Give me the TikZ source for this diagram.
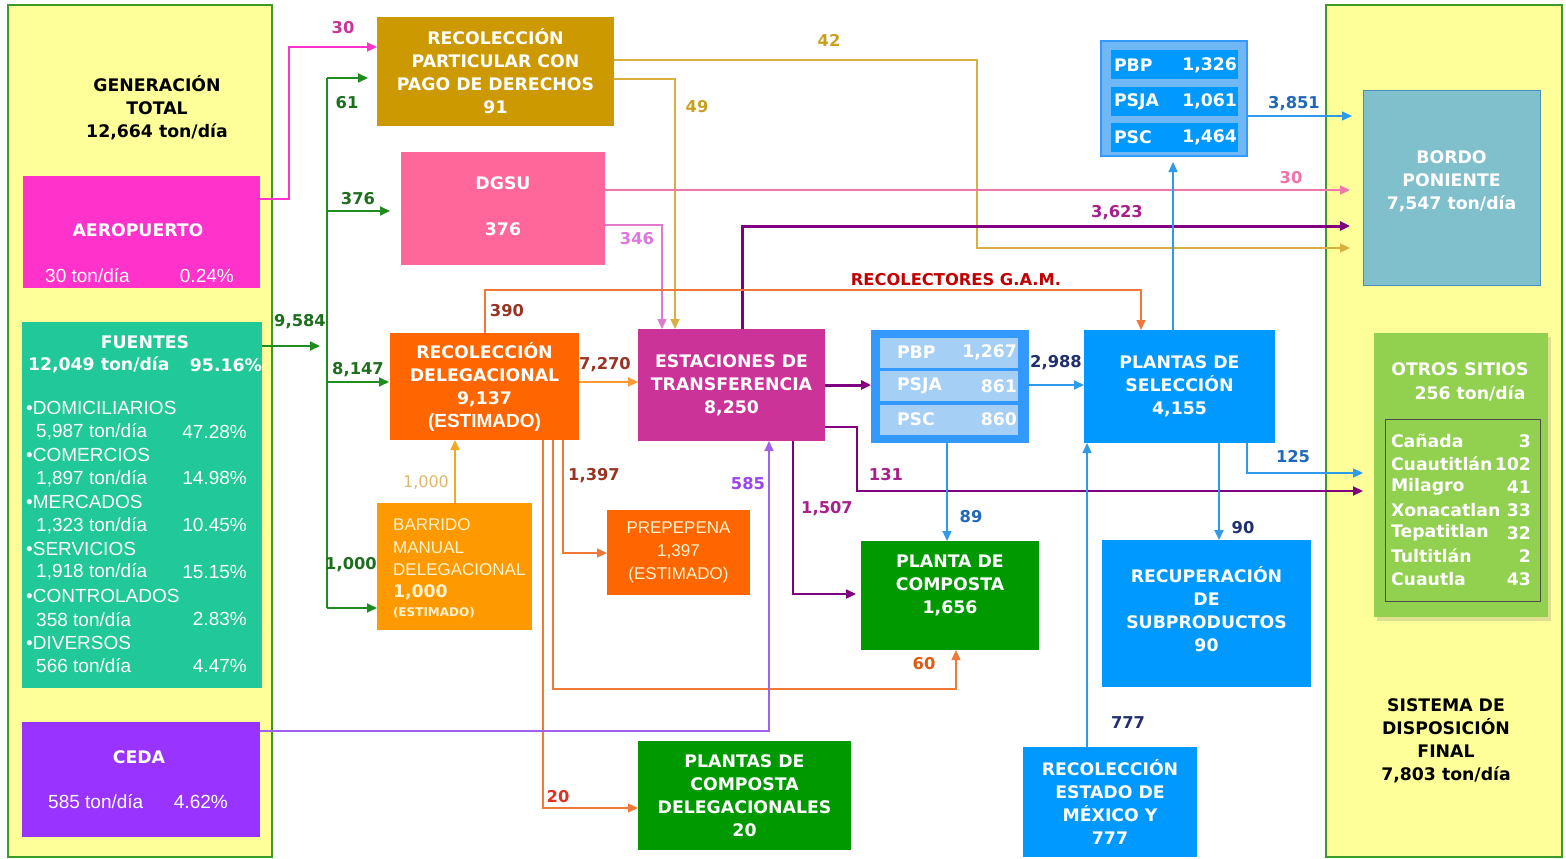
\documentclass[tikz,border=0pt]{standalone}
\usepackage{fontspec}
\setmainfont{DejaVu Sans}
\newfontfamily\arialf{Liberation Sans}
\usetikzlibrary{arrows.meta,shadows}
\definecolor{ylw}{HTML}{FFFF99}
\definecolor{grnb}{HTML}{3A9A2A}
\definecolor{aeroc}{HTML}{FF33CC}
\definecolor{fuentc}{HTML}{20C997}
\definecolor{cedac}{HTML}{9933FF}
\definecolor{goldc}{HTML}{CC9900}
\definecolor{dgsuc}{HTML}{FF6699}
\definecolor{orgc}{HTML}{FF6600}
\definecolor{estc}{HTML}{CC3399}
\definecolor{barc}{HTML}{FF9900}
\definecolor{grc}{HTML}{009900}
\definecolor{bluc}{HTML}{0099FF}
\definecolor{blu2}{HTML}{3399FF}
\definecolor{ltblu}{HTML}{A6CFF5}
\definecolor{ltb1}{HTML}{70B8F5}
\definecolor{bordc}{HTML}{80C0CC}
\definecolor{bordb}{HTML}{4A90B8}
\definecolor{otrc}{HTML}{92D050}
\definecolor{lgreen}{HTML}{1E8C1E}
\definecolor{lgold}{HTML}{D9B040}
\definecolor{lpink}{HTML}{F077AA}
\definecolor{lorch}{HTML}{E07ACC}
\definecolor{lpurp}{HTML}{800080}
\definecolor{lorg}{HTML}{F07838}
\definecolor{lorg2}{HTML}{FF9933}
\definecolor{lbar}{HTML}{F5A623}
\definecolor{lceda}{HTML}{A060F0}
\definecolor{lblue}{HTML}{2E9BEA}
\definecolor{tgreen}{HTML}{1E6E1E}
\definecolor{tmag}{HTML}{CC3399}
\definecolor{tgold}{HTML}{C8A020}
\definecolor{tpink}{HTML}{F070A8}
\definecolor{torch}{HTML}{DD77DD}
\definecolor{tplum}{HTML}{A8208A}
\definecolor{tbrown}{HTML}{993322}
\definecolor{tred}{HTML}{C00000}
\definecolor{tred2}{HTML}{DD3322}
\definecolor{torg}{HTML}{E05A10}
\definecolor{ttan}{HTML}{E0B868}
\definecolor{tviol}{HTML}{9944EE}
\definecolor{tnavy}{HTML}{1F2F6F}
\definecolor{tblue}{HTML}{2068B8}
\definecolor{pale}{HTML}{FFF3D0}
\newcommand\bxf{\fontsize{17.3}{23}\selectfont\bfseries}
\newcommand\lbf{\fontsize{16.3}{19}\selectfont\bfseries}
\newcommand\nrf{\arialf\fontsize{19}{23}\selectfont}
\newcommand\nrs{\arialf\fontsize{17}{23}\selectfont}
\begin{document}
\begin{tikzpicture}[x=1pt,y=-1pt,
  box/.style={inner sep=0pt,outer sep=0pt,align=center,text=white,font=\bxf},
  txt/.style={inner sep=0pt,outer sep=0pt,align=center,font=\bxf},
  lab/.style={inner sep=0pt,font=\lbf},
  ntxt/.style={inner sep=0pt,font=\nrf},
  tip/.style={-{Triangle[length=10pt,width=9pt]}},
  ln/.style={line width=1.3pt}]
\useasboundingbox (0,0) rectangle (1566,859);
% background panels
\node[box,fill=ylw,draw=grnb,line width=1.6pt,minimum width=264,minimum height=852] (gen) at (140,431) {};
\node[box,fill=ylw,draw=grnb,line width=1.6pt,minimum width=236,minimum height=852] (sdf) at (1444,431) {};
\node[txt] (genT) at (157,108) {GENERACIÓN\\TOTAL\\12,664 ton/día};
\node[txt] (sdfT) at (1446,741) {SISTEMA DE\\DISPOSICIÓN\\FINAL\\7,803 ton/día};
% aeropuerto
\node[box,fill=aeroc,minimum width=237,minimum height=112] (aero) at (141.5,232) {};
\node[box] (aeroT) at (138,230) {AEROPUERTO};
\node[ntxt,text=white,anchor=west] (aeroA) at (45,276) {30 ton/día};
\node[ntxt,text=white,anchor=east] (aeroB) at (234,276) {0.24\%};
% fuentes
\node[box,fill=fuentc,minimum width=240,minimum height=366] (fue) at (142,505) {};
\node[box] (fueT) at (145,342) {FUENTES};
\node[box,anchor=west] (fueA) at (28,365) {12,049 ton/día};
\node[box,anchor=east] (fueB) at (262,365) {95.16\%};
\foreach \fa/\fb/\fc [count=\i from 0] in {DOMICILIARIOS/{5,987 ton/día}/47.28, COMERCIOS/{1,897 ton/día}/14.98, MERCADOS/{1,323 ton/día}/10.45, SERVICIOS/{1,918 ton/día}/15.15, CONTROLADOS/{358 ton/día}/2.83, DIVERSOS/{566 ton/día}/4.47}{
  \pgfmathsetmacro\yy{408+46.9*\i}
  \pgfmathsetmacro\yv{\yy+23.5}
  \node[ntxt,text=white,anchor=west] (fh\i) at (26,\yy) {\textbullet\fa};
  \node[ntxt,text=white,anchor=west] (fv\i) at (36,\yv) {\fb};
  \node[ntxt,text=white,anchor=east] (fp\i) at (247,\yv) {\fc\%};
}
% ceda
\node[box,fill=cedac,minimum width=238,minimum height=115] (ceda) at (141,779.5) {};
\node[box] (cedaT) at (139,757) {CEDA};
\node[ntxt,text=white,anchor=west] (cedaA) at (48,802) {585 ton/día};
\node[ntxt,text=white,anchor=east] (cedaB) at (228,802) {4.62\%};
% central boxes
\node[box,fill=goldc,minimum width=237,minimum height=109] (rpart) at (495.5,71.5) {RECOLECCIÓN\\PARTICULAR CON\\PAGO DE DERECHOS\\91};
\node[box,fill=dgsuc,minimum width=204,minimum height=113] (dgsu) at (503,208) {};
\node[box] (dgsuT) at (503,206) {DGSU\\[23pt]376};
\node[box,fill=orgc,minimum width=189,minimum height=107] (rdel) at (484.5,386.5) {RECOLECCIÓN\\DELEGACIONAL\\9,137\\{\nrf (ESTIMADO)}};
\node[box,fill=estc,minimum width=187,minimum height=112] (estac) at (731.5,385) {ESTACIONES DE\\TRANSFERENCIA\\8,250};
\node[box,fill=barc,minimum width=155,minimum height=127] (bar) at (454.5,566.5) {};
\node[ntxt,font=\nrs,text=pale,anchor=west] (barA) at (393,525) {BARRIDO};
\node[ntxt,font=\nrs,text=pale,anchor=west] (barB) at (393,548) {MANUAL};
\node[ntxt,font=\nrs,text=pale,anchor=west] (barC) at (393,570) {DELEGACIONAL};
\node[box,text=pale,anchor=west] (barD) at (393,592) {1,000};
\node[box,font=\fontsize{12}{14}\selectfont\bfseries,text=pale,anchor=west] (barE) at (393,613) {(ESTIMADO)};
\node[box,font=\nrs,text=pale,fill=orgc,minimum width=143,minimum height=85] (prep) at (678.5,552.5) {PREPEPENA\\1,397\\(ESTIMADO)};
\node[box,fill=grc,minimum width=213,minimum height=109] (pcdel) at (744.5,795.5) {PLANTAS DE\\COMPOSTA\\DELEGACIONALES\\20};
\node[box,fill=grc,minimum width=178,minimum height=109] (pcomp) at (950,595.5) {};
\node[box] (pcompT) at (950,585) {PLANTA DE\\COMPOSTA\\1,656};
% PBP group (middle)
\node[box,fill=blu2,minimum width=158,minimum height=113] (pbp2) at (950,386.5) {};
\foreach \pn/\pv/\py [count=\i] in {PBP/{1,267}/352.5, PSJA/861/386, PSC/860/419.5}{
  \node[box,fill=ltblu,minimum width=138,minimum height=30] (pb\i) at (949,\py) {};
  \node[box,anchor=west] (pbn\i) at (897,\py) {\pn};
  \node[box,anchor=east] (pbv\i) at (1017,\py) {\pv};
}
\node[box,fill=bluc,minimum width=191,minimum height=113] (psel) at (1179.5,386.5) {PLANTAS DE\\SELECCIÓN\\4,155};
\node[box,fill=bluc,minimum width=209,minimum height=147] (recup) at (1206.5,613.5) {};
\node[box] (recupT) at (1206.5,609.5) {RECUPERACIÓN\\DE\\SUBPRODUCTOS\\90};
\node[box,fill=bluc,minimum width=174,minimum height=110] (restado) at (1110,802) {RECOLECCIÓN\\ESTADO DE\\MÉXICO Y\\777};
% PBP group (top)
\node[box,fill=ltb1,draw=blu2,line width=1.5pt,minimum width=146,minimum height=115] (pbp1) at (1174,98.5) {};
\foreach \pn/\pv/\py [count=\i] in {PBP/{1,326}/65, PSJA/{1,061}/101.5, PSC/{1,464}/137}{
  \node[box,fill=bluc,minimum width=127,minimum height=29] (pa\i) at (1174.5,\py) {};
  \node[box,anchor=west] (pan\i) at (1114,\py) {\pn};
  \node[box,anchor=east] (pav\i) at (1237,\py) {\pv};
}
% destinations
\node[box,fill=bordc,draw=bordb,line width=1pt,minimum width=177,minimum height=195] (bordo) at (1451.5,187.5) {};
\node[box] (bordoT) at (1451.5,181) {BORDO\\PONIENTE\\7,547 ton/día};
\node[box,fill=otrc,minimum width=174,minimum height=284,drop shadow={opacity=0.25,shadow xshift=3pt,shadow yshift=-4pt}] (otros) at (1461,475) {};
\node[box] (otrA) at (1460,369) {OTROS SITIOS};
\node[box] (otrB) at (1470,393) {256 ton/día};
\node[box,draw=black!70,line width=1.2pt,minimum width=155,minimum height=182] (otrin) at (1463,510.5) {};
\foreach \sn/\sv [count=\i from 0] in {Cañada/3, Cuautitlán/102, Milagro/41, Xonacatlan/33, Tepatitlan/32, Tultitlán/2, Cuautla/43}{
  \pgfmathsetmacro\ys{441+23*\i}
  \node[box,anchor=west] (sn\i) at (1391,\ys) {\sn};
  \node[box,anchor=east] (sv\i) at (1531,\ys) {\sv};
}
% connectors
\coordinate (tTop) at (327,78);
\coordinate (tBot) at (327,608);
\draw[lgreen,line width=1.8pt] (tTop) -- (tBot);
\draw[lgreen,line width=1.8pt,tip,shorten >=9pt] (tTop) -- (rpart.west|-tTop);
\draw[lgreen,line width=1.8pt,tip,shorten >=11pt] (tTop|-0,211) -- (dgsu.west|-0,211);
\draw[lgreen,line width=1.8pt,tip,shorten >=1pt] (tTop|-0,382) -- (rdel.west|-0,382);
\draw[lgreen,line width=1.8pt,tip] (tBot) -- (bar.west|-tBot);
\draw[lgreen,line width=1.8pt,tip,shorten >=7pt] (fue.east|-0,346) -- (tTop|-0,346);
\draw[aeroc,line width=2pt,tip] (aero.east|-0,199) -- (289,199) |- (rpart.west|-0,47);
\draw[lgold,ln,tip,shorten >=13pt] (rpart.east|-0,60) -| (977,248) -- (bordo.west|-0,248);
\draw[lgold,ln,tip] (rpart.east|-0,79) -| (675,0|-estac.north);
\draw[lpink,ln,tip,shorten >=13pt] (dgsu.east|-0,190) -- (bordo.west|-0,190);
\draw[lorch,ln,tip] (dgsu.east|-0,225) -| (662,0|-estac.north);
\draw[lpurp,line width=3pt,tip,shorten >=13pt] (742,0|-estac.north) |- (bordo.west|-0,226);
\draw[lorg,ln,tip] (485,0|-rdel.north) |- (1141,290) -- (1141,0|-psel.north);
\draw[lorg2,line width=2pt,tip] (rdel.east|-0,382) -- (estac.west|-0,382);
\draw[lbar,line width=2pt,tip] (455,0|-bar.north) -- (455,0|-rdel.south);
\draw[lorg,ln,tip] (543,0|-rdel.south) |- (pcdel.west|-0,808);
\draw[lorg,ln,tip] (553,0|-rdel.south) |- (956,689) -- (956,0|-pcomp.south);
\draw[lorg,ln,tip] (563,0|-rdel.south) |- (prep.west|-0,553);
\draw[lceda,ln,tip] (ceda.east|-0,731) -| (769,0|-estac.south);
\draw[lpurp,line width=3pt,tip] (estac.east|-0,385) -- (pbp2.west|-0,385);
\draw[lpurp,line width=2.2pt,tip,shorten >=11pt] (estac.east|-0,427) -| (857,491) -- (otros.west|-0,491);
\draw[lpurp,line width=2.2pt,tip,shorten >=5pt] (793,0|-estac.south) |- (pcomp.west|-0,594);
\draw[lblue,line width=2pt,tip] (pbp2.east|-0,385) -- (psel.west|-0,385);
\draw[lblue,ln,tip] (947,0|-pbp2.south) -- (947,0|-pcomp.north);
\draw[lblue,ln,tip,shorten >=6pt] (1173,0|-psel.north) -- (1173,0|-pbp1.south);
\draw[lblue,line width=2pt,tip] (1219,0|-psel.south) -- (1219,0|-recup.north);
\draw[lblue,ln,tip,shorten >=11pt] (1247,0|-psel.south) |- (otros.west|-0,473);
\draw[lblue,ln,tip] (1087,0|-restado.north) -- (1087,0|-psel.south);
\draw[lblue,ln,tip,shorten >=11pt] (pbp1.east|-0,116) -- (bordo.west|-0,116);
% labels
\node[lab,text=tmag] (l30a) at (343,28) {30};
\node[lab,text=tgreen] (l61) at (347,103) {61};
\node[lab,text=tgreen] (l376) at (358,199) {376};
\node[lab,text=tgreen] (l9584) at (300,322) {9,584};
\node[lab,text=tgreen] (l8147) at (358,370) {8,147};
\node[lab,text=tgreen] (l1000g) at (351,565) {1,000};
\node[lab,text=tgold] (l42) at (829,40) {42};
\node[lab,text=tgold] (l49) at (697,107) {49};
\node[lab,text=tpink] (l30b) at (1291,178) {30};
\node[lab,text=torch] (l346) at (637,239) {346};
\node[lab,text=tplum] (l3623) at (1117,213) {3,623};
\node[lab,text=tbrown] (l390) at (507,311) {390};
\node[lab,text=tred] (lgam) at (956,280) {RECOLECTORES G.A.M.};
\node[lab,text=tbrown] (l7270) at (605,365) {7,270};
\node[lab,font=\fontsize{16}{19}\selectfont,text=ttan] (l1000t) at (426,482) {1,000};
\node[lab,text=tbrown] (l1397) at (594,476) {1,397};
\node[lab,text=tred2] (l20) at (558,797) {20};
\node[lab,text=torg] (l60) at (924,664) {60};
\node[lab,text=tviol] (l585) at (748,484) {585};
\node[lab,text=tplum] (l131) at (886,475) {131};
\node[lab,text=tplum] (l1507) at (827,509) {1,507};
\node[lab,text=tnavy] (l2988) at (1056,363) {2,988};
\node[lab,text=tblue] (l89) at (971,517) {89};
\node[lab,text=tnavy] (l90) at (1243,528) {90};
\node[lab,text=tblue] (l125) at (1293,457) {125};
\node[lab,text=tblue] (l3851) at (1294,104) {3,851};
\node[lab,text=tnavy] (l777) at (1128,723) {777};
\end{tikzpicture}
\end{document}
